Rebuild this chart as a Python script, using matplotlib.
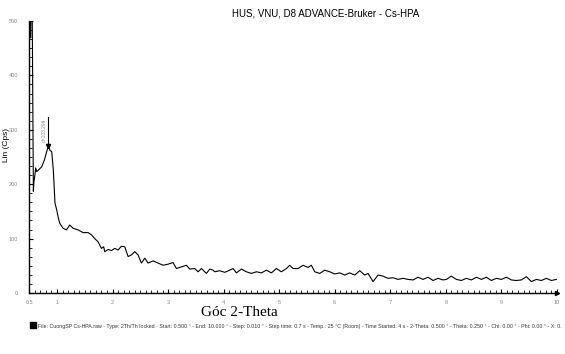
import matplotlib
matplotlib.use("Agg")
import matplotlib.pyplot as plt
import matplotlib.patches as mpatches
from matplotlib.ticker import MultipleLocator, AutoMinorLocator

# XRD pattern (2-Theta in degrees, Lin counts)
two_theta = [
    0.50, 0.52, 0.525, 0.53, 0.555, 0.575, 0.585, 0.60, 0.617, 0.635, 0.676, 0.725,
    0.772, 0.815, 0.845, 0.874, 0.905, 0.934, 0.964, 0.995, 1.02, 1.05, 1.11, 1.17,
    1.23, 1.29, 1.38, 1.47, 1.56, 1.62, 1.68, 1.74, 1.80, 1.84, 1.86, 1.92, 1.98,
    2.04, 2.10, 2.16, 2.22, 2.28, 2.34, 2.40, 2.46, 2.52, 2.58, 2.64, 2.73, 2.82,
    2.91, 3.00, 3.09, 3.15, 3.24, 3.33, 3.39, 3.48, 3.54, 3.60, 3.69, 3.75, 3.81,
    3.84, 3.93, 4.02, 4.11, 4.17, 4.23, 4.32, 4.41, 4.50, 4.59, 4.68, 4.77, 4.86,
    4.95, 5.04, 5.13, 5.19, 5.25, 5.34, 5.43, 5.52, 5.58, 5.64, 5.73, 5.82, 5.91,
    6.00, 6.09, 6.18, 6.27, 6.36, 6.45, 6.54, 6.60, 6.69, 6.78, 6.87, 6.96, 7.05,
    7.14, 7.23, 7.32, 7.41, 7.50, 7.59, 7.68, 7.77, 7.86, 7.95, 8.01, 8.10, 8.19,
    8.28, 8.37, 8.46, 8.55, 8.64, 8.73, 8.82, 8.91, 9.00, 9.09, 9.18, 9.27, 9.36,
    9.45, 9.54, 9.63, 9.72, 9.81, 9.90, 9.99,
]
counts = [
    500, 500, 469, 500, 500, 187, 205, 215, 230, 223, 227, 232,
    244, 260, 270, 262, 260, 226, 165, 153, 140, 128, 119, 116,
    125, 119, 116, 111, 111, 107, 100, 94, 82, 85, 76, 80, 78,
    82, 79, 86, 85, 67, 70, 76, 70, 55, 64, 55, 59, 55,
    51, 53, 56, 45, 48, 51, 44, 45, 39, 45, 36, 44, 42,
    39, 41, 38, 42, 45, 37, 44, 39, 36, 39, 37, 42, 37,
    45, 39, 45, 51, 45, 45, 51, 47, 51, 39, 36, 42, 39,
    35, 37, 33, 37, 33, 41, 33, 36, 21, 33, 31, 27, 28,
    25, 27, 25, 24, 29, 25, 29, 23, 27, 24, 25, 31, 25,
    23, 27, 24, 29, 25, 29, 23, 27, 25, 29, 24, 23, 24,
    30, 21, 25, 23, 27, 23, 25,
]

peak_x = 0.845
peak_y = 270
peak_top = 324
peak_label = "d=103.299"

x_ticks = [0.5, 1, 2, 3, 4, 5, 6, 7, 8, 9, 10]
x_tick_labels = ["0.5", "1", "2", "3", "4", "5", "6", "7", "8", "9", "10"]
y_ticks = [0, 100, 200, 300, 400, 500]

title = "HUS, VNU, D8 ADVANCE-Bruker - Cs-HPA"
footer = ("File: CuongSP Cs-HPA.raw - Type: 2Th/Th locked - Start: 0.500 ° - End: 10.000 ° - "
          "Step: 0.010 ° - Step time: 0.7 s - Temp.: 25 °C (Room) - Time Started: 4 s - "
          "2-Theta: 0.500 ° - Theta: 0.250 ° - Chi: 0.00 ° - Phi: 0.00 ° - X: 0.")

fig = plt.figure(figsize=(5.65, 3.54), dpi=100)
ax = fig.add_axes([0.0517, 0.1723, 0.934, 0.7684])

ax.plot(two_theta, counts, color="black", lw=0.8)
ax.plot([peak_x, peak_x], [peak_y, peak_top], color="black", lw=0.8)
ax.plot([peak_x], [peak_y], marker="v", ms=3, color="black")
ax.text(peak_x - 0.07, peak_y + 8, peak_label, rotation=90, fontsize=3.5,
        color="#888888", ha="center", va="bottom", family="Liberation Sans")

ax.set_xlim(0.5, 10)
ax.set_ylim(0, 500)
ax.set_xticks(x_ticks)
ax.set_xticklabels(x_tick_labels)
ax.set_yticks(y_ticks)
ax.xaxis.set_minor_locator(MultipleLocator(0.1))
ax.yaxis.set_minor_locator(AutoMinorLocator(6))

for side in ["top", "right"]:
    ax.spines[side].set_visible(False)
for side in ["left", "bottom"]:
    ax.spines[side].set_linewidth(1.0)

ax.tick_params(which="major", direction="in", length=3, width=0.8,
               labelsize=4, labelcolor="#888888", pad=5)
ax.tick_params(which="minor", direction="in", length=2, width=0.6)
ax.tick_params(axis="y", pad=8)
for lab in ax.get_xticklabels() + ax.get_yticklabels():
    lab.set_family("Liberation Sans")

# arrow head at the end of the x axis
ax.plot([1], [0], marker=">", ms=3, color="black", transform=ax.transAxes, clip_on=False)

ax.set_ylabel("Lin (Cps)", fontsize=6, family="Liberation Sans")
ax.yaxis.set_label_coords(-0.037, 0.545)

fig.text(0.577, 0.963, title, fontsize=7, family="Liberation Sans", ha="center", va="center")
fig.text(0.423, 0.116, "Góc 2-Theta", fontsize=11, family="Liberation Serif",
         ha="center", va="center")

fig.patches.append(mpatches.Rectangle((0.053, 0.073), 0.011, 0.017, transform=fig.transFigure,
                                      facecolor="black", edgecolor="black"))
fig.text(0.067, 0.079, footer, fontsize=3.75, family="Liberation Sans", ha="left", va="center",
         color="#333333")

fig.savefig("out.png", dpi=100)
